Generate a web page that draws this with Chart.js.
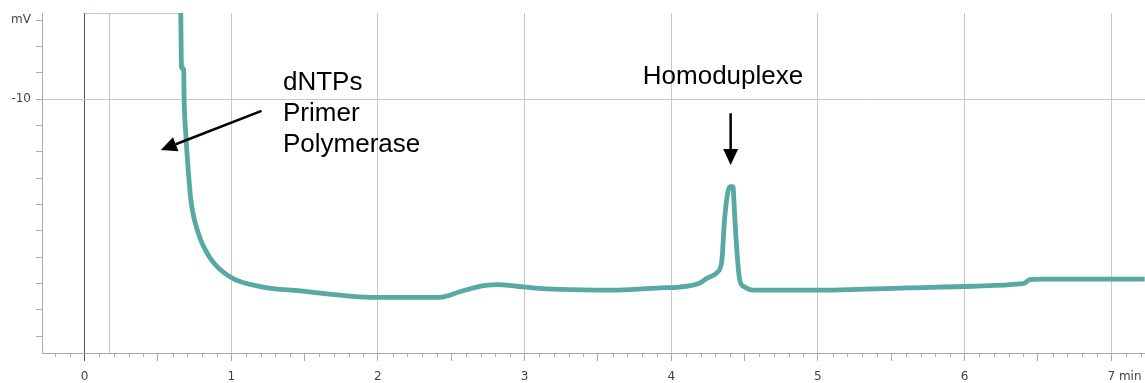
<!DOCTYPE html>
<html>
<head>
<meta charset="utf-8">
<script src="https://cdn.jsdelivr.net/npm/chart.js@4"></script>
<style>
  body { margin: 0; background: #fff; }
  canvas { display: block; }
</style>
</head>
<body>
<canvas id="chromChart" width="1145" height="383"></canvas>
<script>
// retention time (min) and detector signal (mV)
const traceTime = [0.655, 0.661, 0.665, 0.676, 0.679, 0.690, 0.705, 0.725, 0.776, 0.855,
  0.990, 1.215, 1.470, 1.720, 1.945, 2.200, 2.422, 2.559, 2.673, 2.811,
  2.947, 3.056, 3.240, 3.580, 3.740, 3.922, 4.058, 4.194, 4.242, 4.310,
  4.344, 4.365, 4.399, 4.420, 4.433, 4.447, 4.467, 4.501, 4.556, 4.992,
  5.605, 6.055, 6.376, 6.410, 6.444, 6.512, 7.228];
const traceSignal = [3, -5.9, -6.1, -6.3, -10.1, -14.3, -18.5, -22.8, -27.0, -30.1,
  -32.5, -33.8, -34.3, -34.8, -35.1, -35.1, -35.1, -34.4, -33.8, -33.5,
  -33.7, -33.9, -34.1, -34.2, -34.1, -33.9, -33.8, -33.3, -32.7, -32.0,
  -30.6, -24.9, -21.1, -21.1, -24.9, -29.1, -32.9, -33.8, -34.2, -34.2,
  -33.9, -33.7, -33.4, -33.3, -32.85, -32.8, -32.8];

// off-scale part of the trace (detector saturated)
const overloadTime = [0, 0.66];

const xMin = -0.29, xMax = 7.23;
const yMin = -42.15, yMax = 0.89;
const injectTime = 0.166;
const timeUnit = ' min';

// annotations, in data units
const notes = {
  peakText: { t: 3.806, v: -8.1, lines: ['Homoduplexe'] },
  peakArrow: { from: [4.405, -11.8], to: [4.405, -18.35] },
  frontText: { t: 1.353, v: -8.8, lines: ['dNTPs', 'Primer', 'Polymerase'] },
  frontArrow: { from: [1.207, -11.5], to: [0.520, -16.46] }
};

const TRACE = '#58a8a4';
const AXIS_FONT = { family: '"DejaVu Sans", Verdana, sans-serif', size: 12 };
const near = (a, b) => Math.abs(a - b) < 1e-6;

const points = traceTime.map((t, i) => ({ x: t, y: traceSignal[i] }));
const overload = overloadTime.map(t => ({ x: t, y: yMax }));

function arrow(ctx, x1, y1, x2, y2) {
  const ang = Math.atan2(y2 - y1, x2 - x1);
  const len = 16, half = 7.5;
  const bx = x2 - Math.cos(ang) * len, by = y2 - Math.sin(ang) * len;
  ctx.beginPath();
  ctx.moveTo(x1, y1);
  ctx.lineTo(bx, by);
  ctx.stroke();
  ctx.beginPath();
  ctx.moveTo(x2, y2);
  ctx.lineTo(bx - Math.sin(ang) * half, by + Math.cos(ang) * half);
  ctx.lineTo(bx + Math.sin(ang) * half, by - Math.cos(ang) * half);
  ctx.closePath();
  ctx.fill();
}

const decorations = {
  id: 'decorations',
  beforeDatasetsDraw(chart) {
    const { ctx, chartArea, scales: { x } } = chart;
    ctx.save();
    // injection marker
    const px = Math.round(x.getPixelForValue(injectTime)) + 0.5;
    ctx.strokeStyle = '#c4c4c4';
    ctx.lineWidth = 1;
    ctx.beginPath();
    ctx.moveTo(px, chartArea.top);
    ctx.lineTo(px, chartArea.bottom);
    ctx.stroke();
    // minor ticks every 0.1 min
    ctx.strokeStyle = '#aaa';
    for (let k = -2; k <= 72; k++) {
      if (k % 5 === 0) continue;
      const p = Math.round(x.getPixelForValue(k / 10)) + 0.5;
      ctx.beginPath();
      ctx.moveTo(p, chartArea.bottom);
      ctx.lineTo(p, chartArea.bottom + 4);
      ctx.stroke();
    }
    ctx.restore();
  },
  afterDraw(chart) {
    const { ctx, scales: { x, y } } = chart;
    ctx.save();
    // unit after the last time label
    ctx.font = AXIS_FONT.size + 'px ' + AXIS_FONT.family;
    ctx.fillStyle = '#444';
    ctx.textBaseline = 'middle';
    const last = x.ticks[x.ticks.length - 1];
    const lastPx = x.getPixelForValue(last.value);
    const half = ctx.measureText(String(Math.round(last.value))).width / 2;
    ctx.fillText(timeUnit, lastPx + half, 377);

    ctx.fillStyle = '#000';
    ctx.strokeStyle = '#000';
    ctx.lineWidth = 2.5;
    ctx.font = '26px "Liberation Sans", Arial, sans-serif';
    ctx.textBaseline = 'alphabetic';
    [notes.peakText, notes.frontText].forEach(n => {
      const left = x.getPixelForValue(n.t);
      const base = y.getPixelForValue(n.v);
      n.lines.forEach((s, i) => ctx.fillText(s, left, base + i * 31));
    });
    [notes.peakArrow, notes.frontArrow].forEach(a => {
      arrow(ctx,
        x.getPixelForValue(a.from[0]), y.getPixelForValue(a.from[1]),
        x.getPixelForValue(a.to[0]), y.getPixelForValue(a.to[1]));
    });
    ctx.restore();
  }
};

new Chart(document.getElementById('chromChart'), {
  type: 'line',
  data: {
    datasets: [{
      data: points,
      borderColor: TRACE,
      borderWidth: 4.8,
      pointRadius: 0,
      cubicInterpolationMode: 'monotone',
      fill: false
    }, {
      data: overload,
      borderColor: '#8cc3c0',
      borderWidth: 1.5,
      pointRadius: 0,
      fill: false
    }]
  },
  options: {
    responsive: false,
    devicePixelRatio: 1,
    animation: false,
    layout: { padding: { top: 13, left: 0, right: 0, bottom: 0 } },
    plugins: { legend: { display: false }, tooltip: { enabled: false } },
    scales: {
      x: {
        type: 'linear',
        min: xMin,
        max: xMax,
        afterFit: s => { s.height = 30; },
        afterBuildTicks: s => {
          const t = [];
          for (let k = 0; k <= 70; k += 5) t.push({ value: k / 10 });
          s.ticks = t;
        },
        ticks: {
          autoSkip: false,
          maxRotation: 0,
          padding: 9,
          color: '#444',
          font: AXIS_FONT,
          callback: v => near(v, Math.round(v)) ? String(Math.round(v)) : ''
        },
        grid: {
          lineWidth: 1,
          tickLength: 8,
          color: c => {
            const v = c.tick ? c.tick.value : NaN;
            if (near(v, 0)) return '#555';
            return near(v, Math.round(v)) ? '#c8c8c8' : 'rgba(0,0,0,0)';
          },
          tickColor: c => {
            const v = c.tick ? c.tick.value : NaN;
            return near(v, 0) ? '#555' : '#aaa';
          }
        },
        border: { color: '#aaa' }
      },
      y: {
        type: 'linear',
        min: yMin,
        max: yMax,
        afterFit: s => { s.width = 42; },
        afterBuildTicks: s => {
          const t = [];
          for (let k = 0; k <= 12; k++) t.push({ value: -k * 10 / 3 });
          s.ticks = t;
        },
        ticks: {
          autoSkip: false,
          padding: 5,
          color: '#444',
          font: AXIS_FONT,
          callback: v => near(v, 0) ? 'mV' : (near(v, -10) ? '-10' : '')
        },
        grid: {
          lineWidth: 1,
          tickLength: 6,
          color: c => (c.tick && near(c.tick.value, -10)) ? '#c8c8c8' : 'rgba(0,0,0,0)',
          tickColor: '#aaa'
        },
        border: { color: '#aaa' }
      }
    }
  },
  plugins: [decorations]
});
</script>
</body>
</html>
